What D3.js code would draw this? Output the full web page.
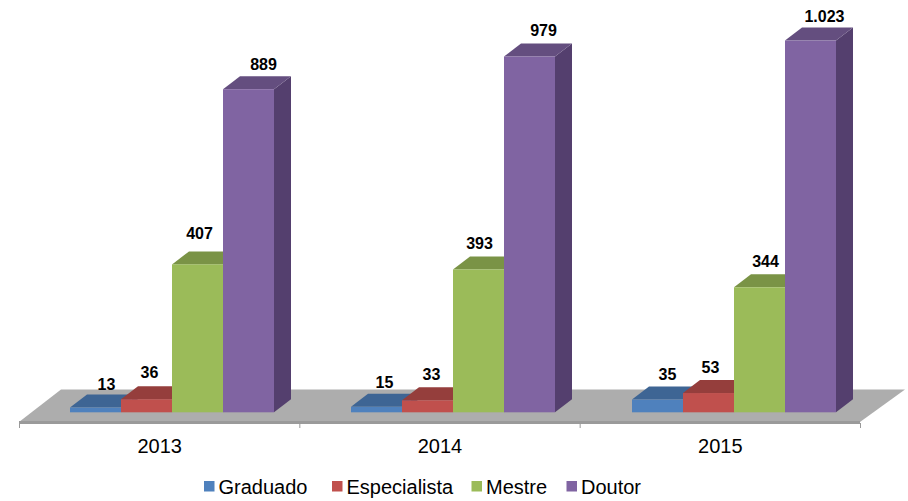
<!DOCTYPE html>
<html><head><meta charset="utf-8">
<script src="https://cdnjs.cloudflare.com/ajax/libs/d3/7.8.5/d3.min.js"></script>
<style>html,body{margin:0;background:#fff}svg{display:block}text{font-family:"Liberation Sans",Arial,sans-serif;fill:#000}</style>
</head><body><script>
const years = ["2013", "2014", "2015"];
const seriesNames = ["Graduado", "Especialista", "Mestre", "Doutor"];
const graduado = [13, 15, 35];
const especialista = [36, 33, 53];
const mestre = [407, 393, 344];
const doutor = [889, 979, 1023];
const seriesValues = [graduado, especialista, mestre, doutor];

const frontColors = ["#4f81bd", "#c0504d", "#9bbb59", "#8064a2"];
const topColors = ["#3e6594", "#953e3c", "#7a9346", "#644e7f"];
const sideColors = ["#355578", "#7e3533", "#67793a", "#543f6e"];
// Hand-placed label nudges in the source chart [dx, dy], by series then year
const labelNudge = [
  [[11, 2], [8, 1], [10, 0]],
  [[3, -1], [4, 0], [2, 0]],
  [[2, -5], [1, 0], [6, 0]],
  [[15, 1], [14, 0], [14, 1]]
];

const W = 908, H = 501, floorFront = 422, floorBack = 389.5, baseY = 412.3;
const depthX = 17, depthY = 13;
const svg = d3.select("body").append("svg").attr("width", W).attr("height", H);
const x0 = d3.scaleBand().domain(years).range([19.5, 860.5]);
const groupX = d3.scalePoint().domain(years).range([70, 632]);
const x1 = d3.scaleBand().domain(seriesNames).range([0, 204]);
const y = d3.scaleLinear().domain([0, 1023]).range([baseY, 40.5]);
const fmt = d3.formatLocale({decimal: ",", thousands: ".", grouping: [3], currency: ["", ""]}).format(",d");

// floor
svg.append("path").attr("d", d3.line()([[19, floorFront], [61, floorBack], [905, floorBack], [860, floorFront]]) + "Z").attr("fill", "#adadad");
svg.append("rect").attr("x", 19).attr("y", floorFront - 1).attr("width", 841).attr("height", 3).attr("fill", "#9a9a9a");

// category axis
const axis = d3.axisBottom(x0).tickSize(0).tickPadding(16);
const gAxis = svg.append("g").attr("transform", `translate(0,${floorFront + 1})`).call(axis);
gAxis.select(".domain").remove();
gAxis.selectAll("text").attr("font-size", 20).attr("font-family", '"Liberation Sans",Arial,sans-serif').attr("fill", "#000");
svg.selectAll("line.tk").data([0, 1, 2, 3]).join("line").attr("class", "tk")
  .attr("x1", i => i < 3 ? x0(years[i]) : x0.range()[1]).attr("x2", i => i < 3 ? x0(years[i]) : x0.range()[1])
  .attr("y1", floorFront + 1).attr("y2", floorFront + 6).attr("stroke", "#999");

// bars
seriesNames.forEach((name, s) => {
  const g = svg.append("g");
  years.forEach((yr, i) => {
    const v = seriesValues[s][i];
    const xl = groupX(yr) + x1(name), xr = xl + x1.bandwidth(), t = y(v), b = y(0);
    g.append("path").attr("fill", sideColors[s])
      .attr("d", d3.line()([[xr, t], [xr + depthX, t - depthY], [xr + depthX, b - depthY], [xr, b]]) + "Z");
    g.append("path").attr("fill", topColors[s])
      .attr("d", d3.line()([[xl, t], [xl + depthX, t - depthY], [xr + depthX, t - depthY], [xr, t]]) + "Z");
    g.append("rect").attr("x", xl).attr("y", t).attr("width", xr - xl).attr("height", b - t).attr("fill", frontColors[s]);
  });
});
// value labels above all bars
seriesNames.forEach((name, s) => {
  years.forEach((yr, i) => {
    const v = seriesValues[s][i], n = labelNudge[s][i];
    svg.append("text").attr("x", groupX(yr) + x1(name) + x1.bandwidth() / 2 + n[0]).attr("y", y(v) - 20 + n[1])
      .attr("text-anchor", "middle").attr("font-size", 16).attr("font-weight", "bold").text(fmt(v));
  });
});

// legend
const legendX = [204, 332, 471.5, 566.5];
seriesNames.forEach((name, s) => {
  svg.append("rect").attr("x", legendX[s]).attr("y", 481).attr("width", 10.5).attr("height", 10.5).attr("fill", frontColors[s]);
  svg.append("text").attr("x", legendX[s] + 14.5).attr("y", 494).attr("font-size", 20).text(name);
});
</script></body></html>
